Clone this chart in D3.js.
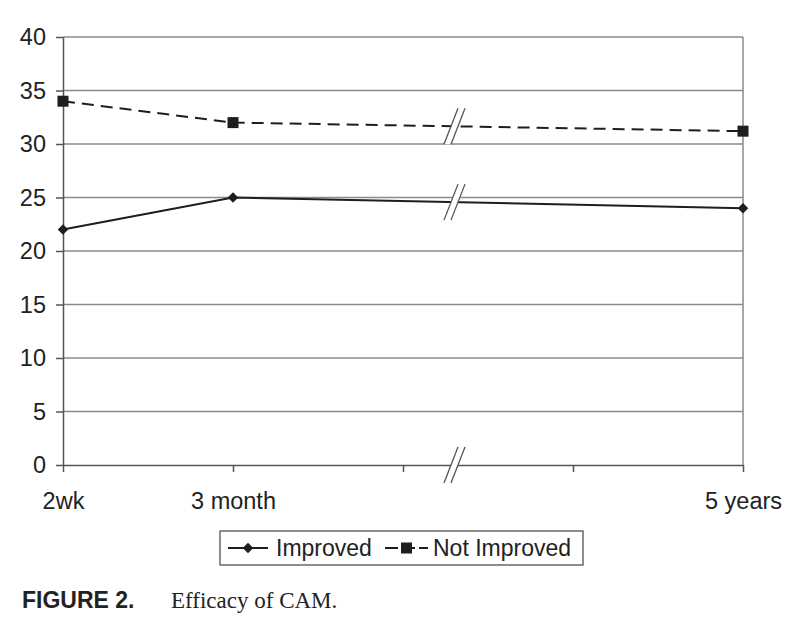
<!DOCTYPE html>
<html lang="en">
<head>
<meta charset="UTF-8">
<title>Efficacy of CAM</title>
<script src="https://d3js.org/d3.v7.min.js"></script>
<style>
  body { margin: 0; background: #fff; }
  svg text { font-family: "Liberation Sans", Arial, sans-serif; fill: #222; }
</style>
</head>
<body>
<div class="chart"></div>
<script>
// x slots of the category axis; only some carry a label
const xLabels = ["2wk", "3 month", "", "", "5 years"];
const pointIdx = [0, 1, 4];
const improved = [22, 25, 24];
const notImproved = [34, 32, 31.2];
const yTicks = [0, 5, 10, 15, 20, 25, 30, 35, 40];
const breakAt = 2.3; // where the "//" axis break sits

const width = 800, height = 634;
const margin = { top: 37, right: 57, bottom: 169, left: 63 };
const ink = "#1e1e1e", grid = "#8a8a8a";

const svg = d3.select(".chart").append("svg")
  .attr("width", width).attr("height", height);

const x = d3.scaleLinear().domain([0, xLabels.length - 1])
  .range([margin.left, width - margin.right]);
const y = d3.scaleLinear().domain([0, 40])
  .range([height - margin.bottom, margin.top]);

// gridlines
svg.append("g").selectAll("line").data(yTicks.filter(d => d > 0)).enter()
  .append("line")
  .attr("x1", x(0)).attr("x2", x(4))
  .attr("y1", d => y(d)).attr("y2", d => y(d))
  .attr("stroke", grid).attr("stroke-width", 1.5);

// right border
svg.append("line")
  .attr("x1", x(4)).attr("x2", x(4)).attr("y1", y(40)).attr("y2", y(0))
  .attr("stroke", grid).attr("stroke-width", 1.5);

// y axis
const yAxis = svg.append("g").attr("transform", `translate(${x(0)},0)`)
  .call(d3.axisLeft(y).tickValues(yTicks).tickSize(7).tickPadding(10).tickSizeOuter(0));
yAxis.selectAll("text").style("font-size", "23.5px");

// x axis
const xAxis = svg.append("g").attr("transform", `translate(0,${y(0)})`)
  .call(d3.axisBottom(x).tickValues([0, 1, 2, 3, 4]).tickSize(7).tickPadding(20)
    .tickSizeOuter(0).tickFormat(i => xLabels[i]));
xAxis.selectAll("text").style("font-size", "23.5px");
svg.selectAll(".domain, .tick line").attr("stroke", "#555").attr("stroke-width", 1.5);

// series
const series = [
  { name: "Improved", values: improved, dash: null, marker: "diamond" },
  { name: "Not Improved", values: notImproved, dash: "12,7", marker: "square" }
];

const line = d3.line().x(d => x(d[0])).y(d => y(d[1]));

function marker(g, type, cx, cy) {
  if (type === "square") {
    g.append("rect").attr("x", cx - 5.5).attr("y", cy - 5.5)
      .attr("width", 11).attr("height", 11).attr("fill", ink);
  } else {
    g.append("path").attr("d", d3.symbol(d3.symbolDiamond2, 70)())
      .attr("transform", `translate(${cx},${cy})`).attr("fill", ink);
  }
}

series.forEach(s => {
  const pts = pointIdx.map((p, i) => [p, s.values[i]]);
  svg.append("path").datum(pts)
    .attr("d", line).attr("fill", "none").attr("stroke", ink)
    .attr("stroke-width", 2).attr("stroke-dasharray", s.dash);
  const g = svg.append("g");
  pts.forEach(p => marker(g, s.marker, x(p[0]), y(p[1])));
});

// break marks
function breakMark(cx, cy) {
  const dx = 7, dy = 18, gap = 7;
  svg.append("path")
    .attr("d", `M${cx - dx},${cy + dy}L${cx + dx},${cy - dy}L${cx + dx + gap},${cy - dy}L${cx - dx + gap},${cy + dy}Z`)
    .attr("fill", "#fff");
  [0, gap].forEach(o => {
    svg.append("line")
      .attr("x1", cx - dx + o).attr("y1", cy + dy)
      .attr("x2", cx + dx + o).attr("y2", cy - dy)
      .attr("stroke", "#555").attr("stroke-width", 1.3);
  });
}
const bx = x(breakAt) - 3;
const t = (breakAt - 1) / 3;
breakMark(bx, y(0));
series.forEach(s => breakMark(bx, y(s.values[1] + (s.values[2] - s.values[1]) * t)));

// legend
const leg = svg.append("g");
leg.append("rect").attr("x", 220).attr("y", 531).attr("width", 363).attr("height", 34)
  .attr("fill", "#fff").attr("stroke", "#444").attr("stroke-width", 1.2);
const legPos = [{ x0: 228, x1: 268, tx: 276 }, { x0: 385, x1: 428, tx: 433 }];
series.forEach((s, i) => {
  const p = legPos[i], cy = 548;
  leg.append("line").attr("x1", p.x0).attr("x2", p.x1).attr("y1", cy).attr("y2", cy)
    .attr("stroke", ink).attr("stroke-width", 2)
    .attr("stroke-dasharray", s.dash ? "13,4" : null);
  marker(leg, s.marker, (p.x0 + p.x1) / 2, cy);
  leg.append("text").attr("x", p.tx).attr("y", cy + 8).style("font-size", "23px").text(s.name);
});

// caption
svg.append("text").attr("x", 22).attr("y", 608)
  .style("font-size", "23px").style("font-weight", "bold").text("FIGURE 2.");
svg.append("text").attr("x", 171).attr("y", 608)
  .style("font-family", "'Liberation Serif', 'Times New Roman', serif")
  .style("font-size", "23px").text("Efficacy of CAM.");
</script>
</body>
</html>
